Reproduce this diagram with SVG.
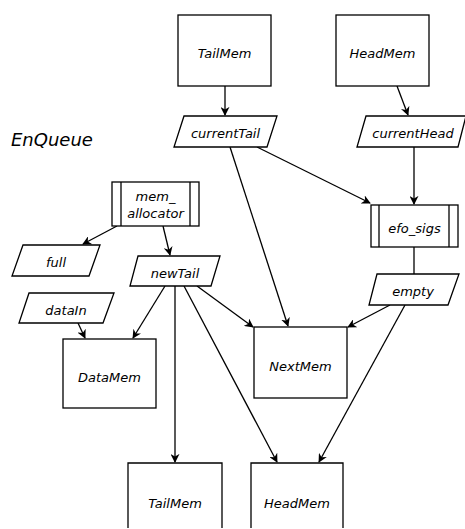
<svg xmlns="http://www.w3.org/2000/svg" width="465" height="529" viewBox="0 0 465 529">
  <style>
    .box { fill: #fff; stroke: #000; stroke-width: 1.3; }
    .ln { fill: none; stroke: #000; stroke-width: 1.3; }
    .lbl { font-family: "DejaVu Sans", sans-serif; font-size: 13px; font-style: italic; text-anchor: middle; dominant-baseline: central; fill: #000; }
    .title { font-family: "DejaVu Sans", sans-serif; font-size: 18px; font-style: italic; fill: #000; }
  </style>
  <defs>
    <marker id="arr" viewBox="0 0 10 10" refX="9" refY="5" markerWidth="9" markerHeight="9" markerUnits="userSpaceOnUse" orient="auto">
      <path d="M0,0 L10,5 L0,10 L3,5 z" fill="#000"/>
    </marker>
  </defs>

  <text class="title" x="11" y="146">EnQueue</text>

  <g id="connectors">
    <line class="ln" x1="225" y1="86" x2="225" y2="115" marker-end="url(#arr)"/>
    <line class="ln" x1="397" y1="86" x2="408" y2="115" marker-end="url(#arr)"/>
    <line class="ln" x1="257" y1="147" x2="370" y2="203" marker-end="url(#arr)"/>
    <line class="ln" x1="414" y1="147" x2="414" y2="204" marker-end="url(#arr)"/>
    <line class="ln" x1="414" y1="247" x2="414" y2="274"/>
    <line class="ln" x1="230" y1="147" x2="288" y2="326" marker-end="url(#arr)"/>
    <line class="ln" x1="390" y1="305" x2="348" y2="327" marker-end="url(#arr)"/>
    <line class="ln" x1="405" y1="305" x2="319" y2="462" marker-end="url(#arr)"/>
    <line class="ln" x1="117" y1="226" x2="83" y2="244" marker-end="url(#arr)"/>
    <line class="ln" x1="163" y1="226" x2="170" y2="255" marker-end="url(#arr)"/>
    <line class="ln" x1="78" y1="323" x2="85" y2="338" marker-end="url(#arr)"/>
    <line class="ln" x1="165" y1="286" x2="133" y2="338" marker-end="url(#arr)"/>
    <line class="ln" x1="175" y1="286" x2="175" y2="462" marker-end="url(#arr)"/>
    <line class="ln" x1="184" y1="286" x2="277" y2="462" marker-end="url(#arr)"/>
    <line class="ln" x1="197" y1="286" x2="253" y2="327" marker-end="url(#arr)"/>
  </g>

  <g id="tailmem-top">
    <rect class="box" x="178" y="15" width="93" height="71"/>
    <text class="lbl" x="224.5" y="53">TailMem</text>
  </g>
  <g id="headmem-top">
    <rect class="box" x="336" y="15" width="93" height="71"/>
    <text class="lbl" x="382.5" y="53">HeadMem</text>
  </g>
  <g id="currentTail">
    <polygon class="box" points="184,116 277,116 267,147 174,147"/>
    <text class="lbl" x="225.5" y="133">currentTail</text>
  </g>
  <g id="currentHead">
    <polygon class="box" points="366,116 466,116 458,147 357,147"/>
    <text class="lbl" x="413" y="133">currentHead</text>
  </g>
  <g id="mem_allocator">
    <rect class="box" x="112" y="182" width="87" height="44"/>
    <line class="ln" x1="121" y1="182" x2="121" y2="226"/>
    <line class="ln" x1="190" y1="182" x2="190" y2="226"/>
    <text class="lbl" x="155.5" y="196">mem_</text>
    <text class="lbl" x="155.5" y="213">allocator</text>
  </g>
  <g id="efo_sigs">
    <rect class="box" x="371" y="205" width="87" height="42"/>
    <line class="ln" x1="379" y1="205" x2="379" y2="247"/>
    <line class="ln" x1="449" y1="205" x2="449" y2="247"/>
    <text class="lbl" x="414.5" y="228">efo_sigs</text>
  </g>
  <g id="full">
    <polygon class="box" points="23,245 100,245 89,276 12,276"/>
    <text class="lbl" x="56" y="262">full</text>
  </g>
  <g id="newTail">
    <polygon class="box" points="138,256 220,256 211,286 130,286"/>
    <text class="lbl" x="175" y="273">newTail</text>
  </g>
  <g id="empty">
    <polygon class="box" points="377,274 459,274 448,305 369,305"/>
    <text class="lbl" x="413" y="291">empty</text>
  </g>
  <g id="dataIn">
    <polygon class="box" points="29,293 114,293 103,323 19,323"/>
    <text class="lbl" x="66" y="310">dataIn</text>
  </g>
  <g id="DataMem">
    <rect class="box" x="63" y="339" width="93" height="69"/>
    <text class="lbl" x="109.5" y="377">DataMem</text>
  </g>
  <g id="NextMem">
    <rect class="box" x="254" y="327" width="93" height="71"/>
    <text class="lbl" x="300.5" y="366">NextMem</text>
  </g>
  <!-- lower boxes run past the bottom edge of the canvas -->
  <g id="tailmem-bottom">
    <path class="box" d="M128,528 V463 H222 V528"/>
    <text class="lbl" x="175" y="503">TailMem</text>
  </g>
  <g id="headmem-bottom">
    <path class="box" d="M251,528 V463 H343 V528"/>
    <text class="lbl" x="297" y="503">HeadMem</text>
  </g>
</svg>
